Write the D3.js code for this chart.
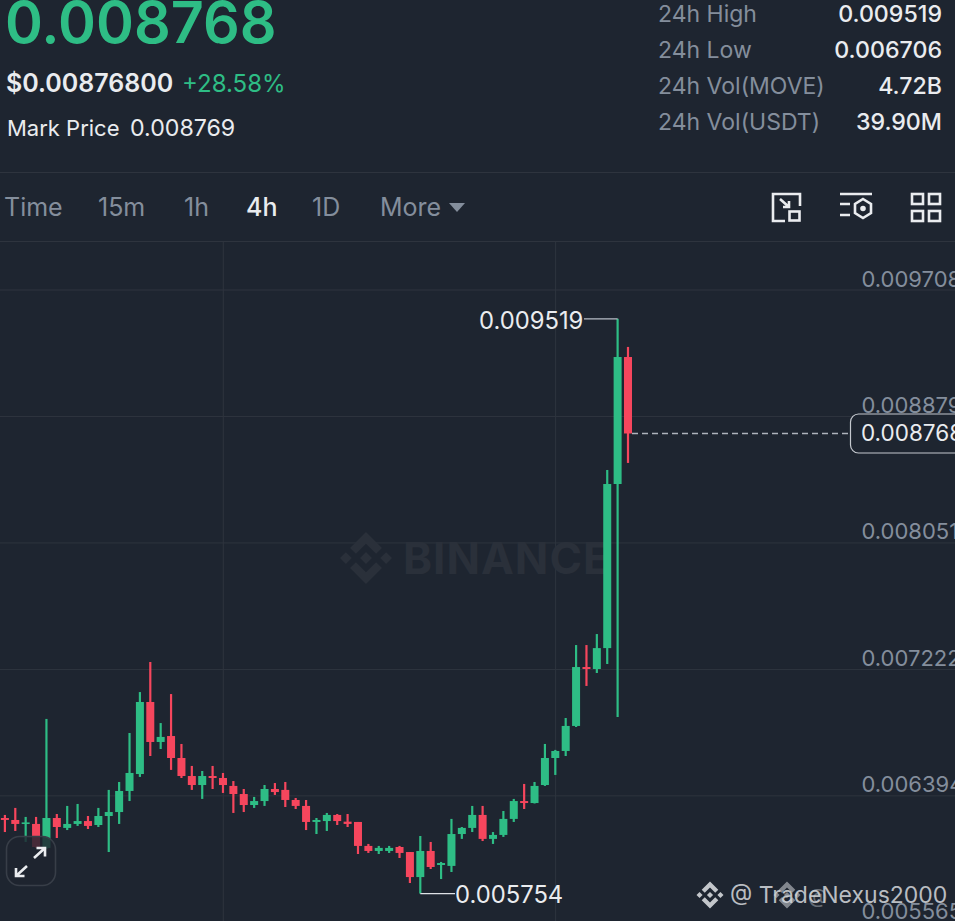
<!DOCTYPE html>
<html>
<head>
<meta charset="utf-8">
<script src="https://cdn.jsdelivr.net/npm/d3@7"></script>
<style>
html,body{margin:0;padding:0;background:#1e2530;overflow:hidden}
svg{display:block}
text{font-family:Inter,Roboto,sans-serif}
</style>
</head>
<body>
<svg id="c" width="955" height="921"></svg>
<script>
// prices in millionths of a USDT
const opens  = [6249,6236,6210,6210,6053,6249,6184,6210,6229,6203,6262,6288,6426,6537,7009,6747,6786,6642,6524,6465,6524,6511,6459,6406,6334,6360,6439,6433,6367,6328,6223,6229,6269,6225,6223,6066,6033,6033,6059,6026,5862,6033,5941,5935,6144,6184,6269,6112,6138,6243,6360,6347,6465,6642,6688,6852,7238,7225,7362,8437,9269];
const highs  = [6269,6315,6256,6256,6898,6275,6328,6341,6262,6315,6433,6485,6806,7074,7271,6871,7061,6734,6590,6557,6590,6544,6491,6439,6387,6465,6478,6485,6380,6367,6249,6282,6275,6275,6223,6079,6066,6066,6066,6026,6131,6092,5961,6243,6190,6328,6328,6157,6295,6374,6472,6485,6734,6695,6904,7382,7382,7454,8529,9519,9335];
const lows   = [6157,6164,6092,6053,6046,6118,6170,6197,6177,6190,6026,6210,6360,6518,6655,6701,6564,6511,6433,6374,6439,6413,6282,6288,6315,6328,6400,6321,6308,6170,6144,6164,6203,6190,6013,6020,6013,6020,5987,5823,5754,5915,5849,5895,6112,6157,6098,6079,6125,6223,6308,6344,6459,6531,6655,6845,7114,7199,7258,6911,8575];
const closes = [6236,6210,6220,6059,6249,6190,6210,6229,6197,6262,6288,6426,6544,7009,6747,6780,6642,6524,6465,6524,6511,6465,6406,6334,6360,6439,6419,6367,6328,6223,6236,6269,6229,6210,6066,6033,6053,6053,6020,5862,6033,5928,5954,6144,6184,6269,6112,6138,6243,6360,6347,6459,6642,6688,6852,7238,7225,7362,8437,9269,8768];
const axisTicks = [0.009708,0.008879,0.008051,0.007222,0.006394,0.005565];
const tabs = ["Time","15m","1h","4h","1D","More"];
const statLabels = ["24h High","24h Low","24h Vol(MOVE)","24h Vol(USDT)"];
const statValues = ["0.009519","0.006706","4.72B","39.90M"];

const BG="#1e2530",GREEN="#2ebd85",RED="#f6465d",GRID="#2e343e",MUTED="#848e9c",TXT="#eaecef";
const LOGO="M38.73 53.2L63.3 28.63l24.58 24.58 14.3-14.3L63.3 0 24.43 38.88zM0 63.31l14.3-14.3 14.3 14.3-14.3 14.3zM38.73 73.41L63.3 97.98l24.58-24.57 14.3 14.29L63.3 126.61 24.43 87.73zM98.01 63.31l14.3-14.3 14.3 14.3-14.3 14.3zM77.78 63.3L63.3 48.81 52.6 59.51l-1.23 1.23-2.54 2.54 14.47 14.47 14.48-14.45z";

const svg=d3.select("#c");
const x=d3.scaleLinear().domain([0,60]).range([4.9,628]);
const y=d3.scaleLinear().domain([5565,9708]).range([922.4,290]);
const yPrice=d3.scaleLinear().domain([0.005565,0.009708]).range([922.4,290]);

function logo(cx,cy,size,fill,op){
  const s=size/126.61;
  svg.append("path").attr("d",LOGO).attr("fill",fill).attr("opacity",op)
    .attr("transform",`translate(${cx-size/2},${cy-size/2}) scale(${s})`);
}
function label(t,px,py,size,fill,weight,anchor){
  return svg.append("text").attr("x",px).attr("y",py).attr("font-size",size).attr("fill",fill)
    .attr("font-weight",weight||400).attr("text-anchor",anchor||"start").attr("dominant-baseline","alphabetic").text(t);
}

// header
label("0.008768",5,43,57.5,GREEN,600);
label("$0.00876800",6,92,25,TXT,600);
label("+28.58%",182,92,24,GREEN,400);
label("Mark Price",7,136,22,TXT,400);
label("0.008769",130,136,23.2,TXT,400);
statLabels.forEach((t,i)=>{
  label(t,658,22+i*36,23,MUTED,400);
  label(statValues[i],942,22+i*36,23.2,TXT,500,"end");
});

// separators
svg.append("line").attr("x1",0).attr("x2",955).attr("y1",172.5).attr("y2",172.5).attr("stroke",GRID).attr("stroke-width",1.2);
svg.append("line").attr("x1",0).attr("x2",955).attr("y1",241.5).attr("y2",241.5).attr("stroke",GRID).attr("stroke-width",1.2);

// tabs
const tabX=[4,98,184,246,312,380];
tabs.forEach((t,i)=>{
  const on=t==="4h";
  label(t,tabX[i],216,25,on?TXT:MUTED,on?500:400);
});
svg.append("path").attr("d","M449 203h16l-8 9z").attr("fill",MUTED);

// toolbar icons
const ic=svg.append("g").attr("fill","none").attr("stroke",TXT).attr("stroke-width",2.6);
ic.append("path").attr("d","M800 206V194H773V221H785M780 199L789 207M789 201V207H783");
ic.append("rect").attr("x",789.5).attr("y",211.5).attr("width",10).attr("height",9);
ic.append("path").attr("d","M840 194H872M840 204H850M840 215H850");
ic.append("path").attr("d","M863 199L871 204V213L863 218L855 213V204Z");
ic.append("circle").attr("cx",863).attr("cy",208.5).attr("r",1.5).attr("fill",TXT);
[[912,194],[929,194],[912,211],[929,211]].forEach(p=>ic.append("rect").attr("x",p[0]).attr("y",p[1]).attr("width",11).attr("height",10));

// gridlines
svg.append("g").selectAll("line").data(axisTicks).join("line")
  .attr("x1",0).attr("x2",955).attr("y1",d=>yPrice(d)).attr("y2",d=>yPrice(d)).attr("stroke",GRID).attr("stroke-width",1);
svg.append("g").selectAll("line").data([21,53]).join("line")
  .attr("x1",d=>x(d)+0.3).attr("x2",d=>x(d)+0.3).attr("y1",242).attr("y2",921).attr("stroke",GRID).attr("stroke-width",1);

// watermark
logo(366,558,52,"#2a303a",1);
svg.append("text").attr("x",403).attr("y",574).attr("font-size",44).attr("font-weight",700).attr("fill","#2a303a").attr("letter-spacing",1).text("BINANCE");

// axis
const axis=d3.axisRight(yPrice).tickValues(axisTicks).tickFormat(d3.format(".6f")).tickSize(0).tickPadding(0);
const ag=svg.append("g").attr("transform","translate(861.500,0)").call(axis);
ag.select(".domain").remove();
ag.selectAll("text").attr("fill",MUTED).attr("font-size",22).attr("x",0).attr("dy",0).attr("y",-4)
  .style("font-family","Inter,Roboto,sans-serif");

// current price line
const closeLast=closes[closes.length-1];
svg.append("line").attr("x1",x(60)+4).attr("x2",850).attr("y1",y(closeLast)).attr("y2",y(closeLast))
  .attr("stroke","#aeb4bc").attr("stroke-width",1.5).attr("stroke-dasharray","6 4");
svg.append("rect").attr("x",850.5).attr("y",y(closeLast)-19.5).attr("width",130).attr("height",39).attr("rx",8)
  .attr("fill",BG).attr("stroke","#c4c8ce").attr("stroke-width",1.2);
label("0.008768",861,y(closeLast)+8,22.5,TXT,400);

// candles
const idx=d3.range(opens.length);
const col=i=>closes[i]>=opens[i]?GREEN:RED;
svg.append("g").selectAll("line").data(idx).join("line")
  .attr("x1",i=>x(i)).attr("x2",i=>x(i)).attr("y1",i=>y(highs[i])).attr("y2",i=>y(lows[i]))
  .attr("stroke",col).attr("stroke-width",2.2);
svg.append("g").selectAll("rect").data(idx).join("rect")
  .attr("x",i=>x(i)-4).attr("width",8)
  .attr("y",i=>y(Math.max(opens[i],closes[i])))
  .attr("height",i=>Math.max(1.6,Math.abs(y(opens[i])-y(closes[i]))))
  .attr("fill",col);

// high / low callouts
const hi=d3.max(highs),lo=d3.min(lows);
const hiI=highs.indexOf(hi),loI=lows.indexOf(lo);
svg.append("line").attr("x1",584).attr("x2",x(hiI)).attr("y1",y(hi)).attr("y2",y(hi)).attr("stroke","#b7bdc6").attr("stroke-width",1.2);
svg.append("line").attr("x1",x(loI)).attr("x2",455).attr("y1",y(lo)).attr("y2",y(lo)).attr("stroke","#dfe2e6").attr("stroke-width",1.2);
label("0.009519",479,328.500,23.8,TXT,400);
label("0.005754",455,902.500,23.8,TXT,400);

// zoom button
svg.append("rect").attr("x",6.5).attr("y",836.5).attr("width",49).attr("height",49).attr("rx",13)
  .attr("fill",BG).attr("fill-opacity",0.82).attr("stroke","#383e48").attr("stroke-width",1.6);
svg.append("path").attr("d","M34 858L45 848M36.500 848H45V856.500M27 866L16 876M16 868V876H24.500")
  .attr("fill","none").attr("stroke","#eaecef").attr("stroke-width",2.6);

// bottom watermark
logo(710,895,27,"#d5d8dc",0.9);
label("@ TradeNexus2000",730,903,23,"#d5d8dc",400).attr("opacity",0.85);
logo(787,895,27,"#d5d8dc",0.55);
label("@",808,903,20,"#d5d8dc",400).attr("opacity",0.4);
</script>
</body>
</html>
